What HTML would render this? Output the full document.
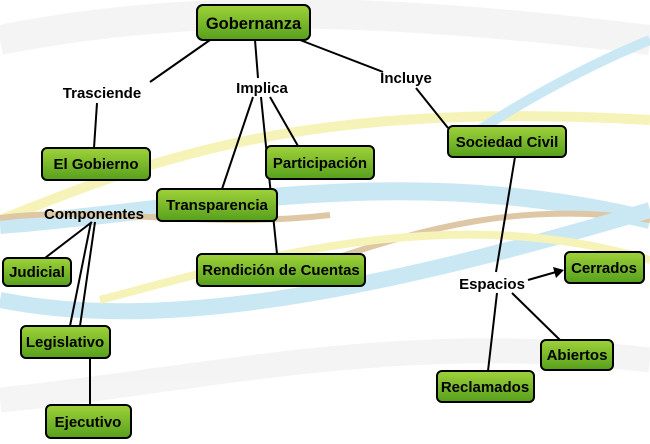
<!DOCTYPE html>
<html><head><meta charset="utf-8"><style>
body{margin:0;background:#fff}
svg{display:block}
</style></head><body>
<svg width="650" height="444" viewBox="0 0 650 444">
<defs>
<linearGradient id="g" x1="0" y1="0" x2="0" y2="1">
<stop offset="0" stop-color="#9fd23a"/><stop offset="1" stop-color="#56a01c"/></linearGradient>
</defs>
<g fill="none" opacity="0.6">
<path d="M0 220 C150 160 300 100 650 120" stroke="#f1ec8a" stroke-width="10"/>
<path d="M0 225 C200 210 400 160 650 220" stroke="#a8d8ee" stroke-width="18"/>
<path d="M0 218 C100 205 200 230 330 215" stroke="#c9a36a" stroke-width="6"/>
<path d="M330 260 C420 230 520 200 650 220" stroke="#c9a36a" stroke-width="6"/>
<path d="M0 300 C150 330 350 300 650 210" stroke="#a8d8ee" stroke-width="16"/>
<path d="M100 300 C250 260 450 200 650 260" stroke="#f1ec8a" stroke-width="8"/>
<path d="M0 40 C200 0 400 10 650 40" stroke="#eeeeee" stroke-width="30"/>
<path d="M0 400 C200 380 400 330 650 360" stroke="#eeeeee" stroke-width="25"/>
<path d="M450 150 C520 100 600 60 650 40" stroke="#a8d8ee" stroke-width="10"/>
</g>
<g stroke="#000" stroke-width="2" fill="none">
<line x1="210" y1="40" x2="150" y2="82"/>
<line x1="255" y1="40" x2="258" y2="78"/>
<line x1="300" y1="40" x2="383" y2="72"/>
<line x1="97" y1="103" x2="94" y2="148"/>
<line x1="270" y1="97" x2="298" y2="146"/>
<line x1="261" y1="97" x2="277" y2="254"/>
<line x1="253" y1="97" x2="222" y2="189"/>
<line x1="416" y1="88" x2="448" y2="128"/>
<line x1="515" y1="157" x2="496" y2="272"/>
<line x1="497" y1="293" x2="488" y2="371"/>
<line x1="512" y1="293" x2="560" y2="340"/>
<line x1="92" y1="222" x2="45" y2="258"/>
<line x1="91" y1="222" x2="70" y2="326"/>
<line x1="95" y1="222" x2="80" y2="326"/>
<line x1="90" y1="358" x2="90" y2="405"/>
<line x1="528" y1="280" x2="556" y2="272"/>
</g>
<polygon points="564,270 553,267 556,278" fill="#000"/>
<g stroke="#000" stroke-width="2" fill="url(#g)">
<rect x="197" y="5" width="113" height="35" rx="6"/>
<rect x="42" y="148" width="108" height="32" rx="5"/>
<rect x="266" y="146" width="108" height="33" rx="5"/>
<rect x="448" y="126" width="118" height="31" rx="5"/>
<rect x="157" y="189" width="120" height="32" rx="5"/>
<rect x="197" y="254" width="168" height="32" rx="5"/>
<rect x="3" y="258" width="68" height="28" rx="5"/>
<rect x="565" y="252" width="79" height="31" rx="5"/>
<rect x="21" y="326" width="89" height="32" rx="5"/>
<rect x="541" y="340" width="72" height="30" rx="5"/>
<rect x="437" y="371" width="97" height="31" rx="5"/>
<rect x="46" y="405" width="85" height="33" rx="5"/>
</g>
<g text-anchor="middle" fill="#000" style="font-family:'Liberation Sans',sans-serif;font-weight:bold;font-size:15px">
<text x="253.5" y="29" style="font-size:16.5px">Gobernanza</text>
<text x="96" y="169">El Gobierno</text>
<text x="320" y="168">Participación</text>
<text x="507" y="147">Sociedad Civil</text>
<text x="217" y="210">Transparencia</text>
<text x="281" y="275">Rendición de Cuentas</text>
<text x="37" y="277">Judicial</text>
<text x="604" y="273">Cerrados</text>
<text x="65" y="347">Legislativo</text>
<text x="577" y="360">Abiertos</text>
<text x="485" y="392">Reclamados</text>
<text x="88" y="427">Ejecutivo</text>
<text x="102" y="98">Trasciende</text>
<text x="262" y="93">Implica</text>
<text x="406" y="83">Incluye</text>
<text x="94" y="219">Componentes</text>
<text x="492" y="289">Espacios</text>
</g>
</svg>
</body></html>
